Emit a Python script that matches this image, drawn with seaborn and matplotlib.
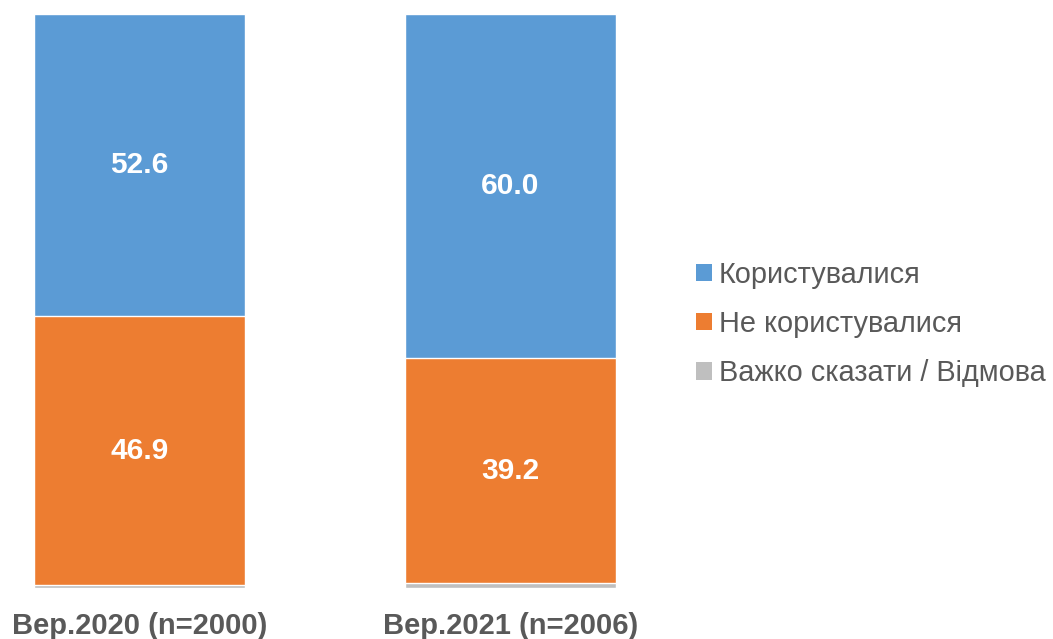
import pandas as pd
import matplotlib.pyplot as plt
import seaborn as sns
from matplotlib.patches import Patch

# Дані
waves = ["Вер.2020 (n=2000)", "Вер.2021 (n=2006)"]
used = [52.6, 60.0]
not_used = [46.9, 39.2]
hard_to_say = [0.5, 0.8]
series_names = ["Користувалися", "Не користувалися", "Важко сказати / Відмова"]
colors = ["#5B9BD5", "#ED7D31", "#BFBFBF"]

sns.set_style("white")
plt.rcParams['font.family'] = ['Liberation Sans', 'DejaVu Sans']

df = pd.DataFrame({"wave": waves, "used": used, "not_used": not_used, "hard": hard_to_say})
# накопичені суми для складених стовпців (знизу: важко сказати, не користувались, користувались)
df["top_orange"] = df["hard"] + df["not_used"]
df["top_blue"] = df["top_orange"] + df["used"]

fig = plt.figure(figsize=(10.53, 6.39), dpi=100)
ax = fig.add_axes([0.0, 0.0798, 0.627, 0.8983])

sns.barplot(data=df, x="wave", y="top_blue", color=colors[0], width=0.57, saturation=1, ax=ax)
sns.barplot(data=df, x="wave", y="top_orange", color=colors[1], width=0.57, saturation=1, ax=ax)
sns.barplot(data=df, x="wave", y="hard", color=colors[2], width=0.57, saturation=1, ax=ax)

for i, row in df.iterrows():
    ax.text(i, row["top_orange"] + row["used"] / 2, f"{row['used']:.1f}", ha="center", va="center",
            color="white", fontsize=21.5, fontweight="bold")
    ax.text(i, row["hard"] + row["not_used"] / 2, f"{row['not_used']:.1f}", ha="center", va="center",
            color="white", fontsize=21.5, fontweight="bold")

ax.set_ylim(0, 100)
ax.set_xlim(-0.3765, 1.405)
ax.set_xlabel("")
ax.set_ylabel("")
ax.set_yticks([])
ax.tick_params(axis="x", length=0, pad=17)
for lab in ax.get_xticklabels():
    lab.set_fontsize(21)
    lab.set_fontweight("bold")
    lab.set_color("#595959")
sns.despine(ax=ax, left=True, bottom=True)

handles = [Patch(facecolor=c, edgecolor="none") for c in colors]
fig.legend(handles, series_names, loc="center left", bbox_to_anchor=(0.636, 0.493),
           frameon=False, fontsize=20.8, labelcolor="#595959", handlelength=0.55,
           handleheight=0.55, handletextpad=0.25, labelspacing=0.74)

fig.savefig("out.png", dpi=100)
